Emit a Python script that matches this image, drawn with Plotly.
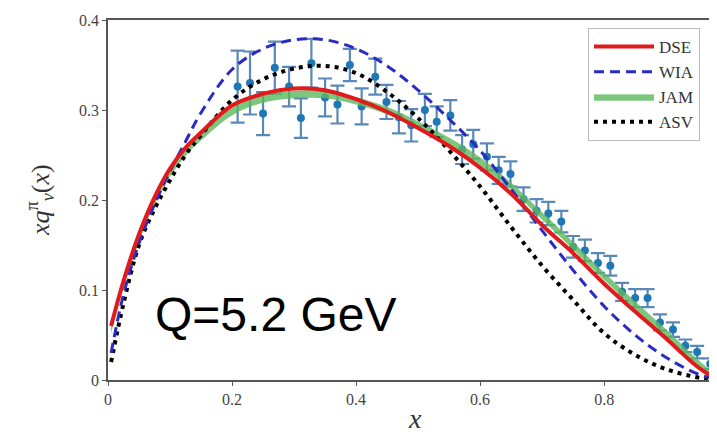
import plotly.graph_objects as go

# ---- data ----
grid_x = [0.005, 0.025, 0.05, 0.075, 0.1, 0.125, 0.15, 0.2, 0.25, 0.3, 0.35, 0.4,
          0.45, 0.5, 0.55, 0.6, 0.65, 0.7, 0.75, 0.8, 0.85, 0.9, 0.95, 0.975, 1.0]

dse = [0.06, 0.11, 0.162, 0.203, 0.235, 0.258, 0.275, 0.305, 0.318, 0.324, 0.322, 0.312,
       0.298, 0.28, 0.26, 0.236, 0.207, 0.172, 0.141, 0.107, 0.076, 0.046, 0.015, 0.004, 0.0]

wia = [0.03, 0.095, 0.152, 0.195, 0.232, 0.265, 0.297, 0.345, 0.368, 0.378, 0.378, 0.368,
       0.349, 0.322, 0.29, 0.255, 0.212, 0.166, 0.122, 0.082, 0.05, 0.025, 0.007, 0.002, 0.0]

asv = [0.02, 0.085, 0.15, 0.19, 0.222, 0.25, 0.272, 0.311, 0.334, 0.346, 0.349, 0.341,
       0.32, 0.291, 0.255, 0.215, 0.17, 0.127, 0.089, 0.052, 0.028, 0.012, 0.003, 0.001, 0.0]

jam_low = [0.052, 0.102, 0.153, 0.195, 0.226, 0.249, 0.266, 0.294, 0.308, 0.313, 0.313, 0.306,
           0.295, 0.279, 0.261, 0.239, 0.211, 0.178, 0.145, 0.111, 0.079, 0.048, 0.017, 0.005, 0.0]
jam_high = [0.06, 0.11, 0.161, 0.203, 0.234, 0.257, 0.274, 0.302, 0.316, 0.321, 0.321, 0.314,
            0.303, 0.287, 0.269, 0.247, 0.219, 0.186, 0.153, 0.119, 0.087, 0.056, 0.023, 0.009, 0.0]

data_x = [0.209, 0.229, 0.25, 0.269, 0.292, 0.311, 0.328, 0.35, 0.37, 0.39, 0.409, 0.431,
          0.449, 0.469, 0.489, 0.511, 0.53, 0.552, 0.571, 0.589, 0.611, 0.63, 0.649, 0.67,
          0.691, 0.71, 0.731, 0.75, 0.769, 0.79, 0.81, 0.829, 0.85, 0.87, 0.89, 0.911,
          0.931, 0.95, 0.971]
data_y = [0.326, 0.330, 0.296, 0.347, 0.326, 0.291, 0.352, 0.314, 0.306, 0.35, 0.304, 0.337,
          0.309, 0.292, 0.283, 0.300, 0.287, 0.294, 0.256, 0.262, 0.248, 0.233, 0.229, 0.201,
          0.188, 0.185, 0.176, 0.148, 0.144, 0.13, 0.127, 0.098, 0.091, 0.091, 0.064, 0.056,
          0.038, 0.031, 0.018]
data_err = [0.04, 0.035, 0.024, 0.029, 0.022, 0.022, 0.027, 0.021, 0.021, 0.018, 0.02, 0.02,
            0.019, 0.018, 0.018, 0.018, 0.017, 0.017, 0.016, 0.016, 0.015, 0.015, 0.014, 0.013,
            0.013, 0.013, 0.012, 0.012, 0.012, 0.011, 0.011, 0.01, 0.01, 0.01, 0.009, 0.008,
            0.007, 0.007, 0.006]

x_ticks = [0, 0.2, 0.4, 0.6, 0.8]
x_tick_text = ["0", "0.2", "0.4", "0.6", "0.8"]
y_ticks = [0, 0.1, 0.2, 0.3, 0.4]
y_tick_text = ["0", "0.1", "0.2", "0.3", "0.4"]

SERIF = "Liberation Serif, DejaVu Serif, serif"

fig = go.Figure()

# data points with error bars
fig.add_trace(go.Scatter(
    x=data_x, y=data_y, mode="markers", showlegend=False,
    marker=dict(color="#1f77b4", size=8),
    error_y=dict(type="data", array=data_err, color="#5a88b8", thickness=2.2, width=7),
))

# JAM band
fig.add_trace(go.Scatter(x=grid_x, y=jam_low, mode="lines", line=dict(width=0, shape="spline"),
                         showlegend=False, hoverinfo="skip"))
fig.add_trace(go.Scatter(x=grid_x, y=jam_high, mode="lines", name="JAM",
                         line=dict(width=0.5, color="#5cb85c", shape="spline"),
                         fill="tonexty", fillcolor="rgba(92,184,92,0.8)", legendrank=3))

# ASV dotted
fig.add_trace(go.Scatter(x=grid_x, y=asv, mode="lines", name="ASV",
                         line=dict(color="black", width=4, dash="4px,5px", shape="spline"),
                         legendrank=4))
# WIA dashed
fig.add_trace(go.Scatter(x=grid_x, y=wia, mode="lines", name="WIA",
                         line=dict(color="#2a2ac4", width=3, dash="10px,6px", shape="spline"),
                         legendrank=2))
# DSE solid
fig.add_trace(go.Scatter(x=grid_x, y=dse, mode="lines", name="DSE",
                         line=dict(color="#e31a1c", width=4, shape="spline"),
                         legendrank=1))

# page body has an 8px margin, so the figure is 8px smaller and margins shifted
fig.update_layout(
    width=709, height=427,
    margin=dict(l=100, r=0, t=12, b=55),
    paper_bgcolor="white", plot_bgcolor="white",
    showlegend=True,
    legend=dict(
        x=(588 - 108) / 609, y=(380 - 28) / 360, xanchor="left", yanchor="top",
        bgcolor="white", bordercolor="#bbbbbb", borderwidth=1,
        font=dict(family=SERIF, size=17, color="#333333"),
        traceorder="normal", itemwidth=60,
    ),
    xaxis=dict(
        range=[0, 0.982], tickvals=x_ticks, ticktext=x_tick_text,
        showline=True, linecolor="#555555", linewidth=1.5, mirror=True,
        ticks="outside", ticklen=4, tickcolor="#555555",
        showgrid=False, zeroline=False,
        tickfont=dict(family=SERIF, size=16, color="#444444"),
    ),
    yaxis=dict(
        range=[0, 0.4], tickvals=y_ticks, ticktext=y_tick_text,
        showline=True, linecolor="#555555", linewidth=1.5, mirror=False,
        ticks="outside", ticklen=4, tickcolor="#555555",
        showgrid=False, zeroline=False,
        tickfont=dict(family=SERIF, size=16, color="#444444"),
    ),
    annotations=[
        dict(text="Q=5.2 GeV", xref="x", yref="y", x=0.072, y=0.073,
             xanchor="left", yanchor="middle", showarrow=False,
             font=dict(family="Liberation Sans, Arial, sans-serif", size=48, color="black")),
        dict(text="<i>xq</i><sup>π</sup><sub><i>v</i></sub>(<i>x</i>)", xref="paper", yref="paper",
             x=(40 - 108) / 609, y=0.5, xanchor="center", yanchor="middle",
             textangle=-90, showarrow=False,
             font=dict(family=SERIF, size=26, color="#333333")),
        dict(text="<i>x</i>", xref="paper", yref="paper",
             x=(415 - 108) / 609, y=-38 / 360, xanchor="center", yanchor="middle",
             showarrow=False, font=dict(family=SERIF, size=28, color="#333333")),
    ],
)

fig.write_html("out.html")
